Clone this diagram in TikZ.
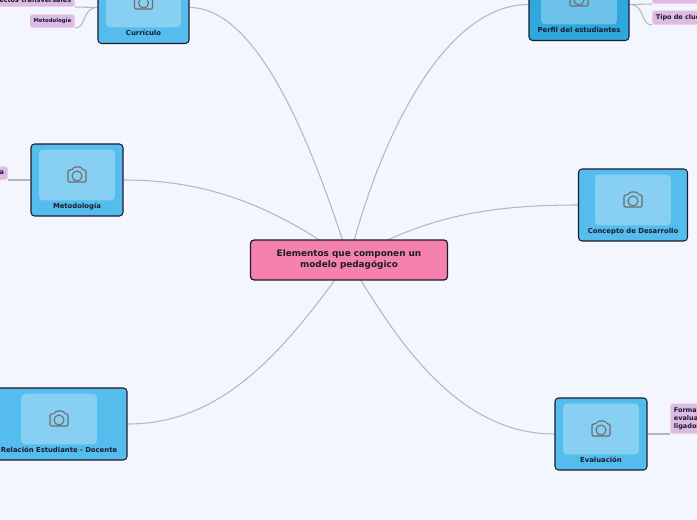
\documentclass[tikz,border=0pt]{standalone}
\usepackage{fontspec}
\setmainfont{DejaVu Sans}
\usepackage{xcolor}
\usetikzlibrary{positioning,backgrounds}
\definecolor{pagecol}{HTML}{F4F6FF}
\definecolor{cardcol}{HTML}{55BDEE}
\definecolor{cardtop}{HTML}{2FA8E0}
\definecolor{hubcol}{HTML}{F582AC}
\definecolor{tagcol}{HTML}{DDBBE4}
\definecolor{linecol}{HTML}{B4B7BE}
\definecolor{inkcol}{HTML}{1B1B2A}
\begin{document}
\begin{tikzpicture}[
  x=0.02cm,y=-0.02cm,
  hub/.style={draw=inkcol,line width=0.7pt,rounded corners=2pt,fill=hubcol,align=center,text=inkcol,font=\fontsize{5.05}{6.3}\selectfont\bfseries,minimum width=3.94cm,minimum height=0.8cm,inner sep=0pt},
  card/.style={draw=inkcol,line width=0.6pt,rounded corners=2pt,fill=cardcol,minimum height=1.44cm,inner sep=0pt},
  photo/.style={fill=white,fill opacity=0.3,rounded corners=2.5pt,minimum height=1.02cm,inner sep=0pt},
  cardname/.style={text=inkcol,font=\fontsize{3.9}{4.8}\selectfont\bfseries,inner sep=0pt,text height=3pt,text depth=0.8pt},
  tag/.style={fill=tagcol,rounded corners=1pt,text=inkcol,font=\fontsize{3.7}{4.5}\selectfont\bfseries,inner ysep=0pt,inner xsep=2pt,align=left},
  branch/.style={draw=linecol,line width=0.6pt},
  camera/.pic={
    \draw[draw=gray!85!black,line width=0.6pt,rounded corners=0.7pt]
      (-9,-5) -- (-5,-5) -- (-3,-8) -- (4,-8) -- (6,-5) -- (9,-5) -- (9,7) -- (-9,7) -- cycle;
    \draw[draw=gray!85!black,line width=0.6pt] (0,1) circle (5);
  }
]
\useasboundingbox (0,0) rectangle (697,520);
\clip (0,0) rectangle (697,520);
\node[hub] (hub) at (349,260) {Elementos que componen un\\modelo pedagógico};

\node[card,minimum width=1.82cm] (curriculo) at (143.5,7.5) {};
\node[card,minimum width=2.00cm,fill=cardtop] (perfil) at (579,4.5) {};
\node[card,minimum width=1.84cm] (metodo) at (77,180) {};
\node[card,minimum width=2.18cm] (concepto) at (633,205) {};
\node[card,minimum width=1.84cm] (evalua) at (601,434) {};
\node[card,minimum width=2.72cm] (relacion) at (59,424) {};

\node[photo,minimum width=1.50cm] (curriculoimg) at (143.5,2) {};
\node[photo,minimum width=1.52cm] (perfilimg) at (579,-1) {};
\node[photo,minimum width=1.52cm] (metodoimg) at (77,175) {};
\node[photo,minimum width=1.52cm] (conceptoimg) at (633,200) {};
\node[photo,minimum width=1.52cm] (evaluaimg) at (601,429) {};
\node[photo,minimum width=1.52cm] (relacionimg) at (59,419) {};

\foreach \img in {curriculoimg,perfilimg,metodoimg,conceptoimg,evaluaimg,relacionimg}
  \pic at (\img) {camera};

\node[cardname,below=1.2pt of curriculoimg] (curriculotxt) {Currículo};
\node[cardname,below=1.2pt of perfilimg] (perfiltxt) {Perfil del estudiantes};
\node[cardname,below=1.2pt of metodoimg] (metodotxt) {Metodología};
\node[cardname,below=1.2pt of conceptoimg] (conceptotxt) {Concepto de Desarrollo};
\node[cardname,below=1.2pt of evaluaimg] (evaluatxt) {Evaluación};
\node[cardname,below=1.2pt of relacionimg] (relaciontxt) {Relación Estudiante - Docente};

\node[tag,anchor=south east,minimum height=0.28cm] (aspectos) at (75,7) {ectos transversales};
\node[tag,anchor=south east,minimum height=0.26cm,font=\fontsize{3.05}{4}\selectfont\bfseries] (metotag) at (75,28) {Metodología};
\node[tag,anchor=south east,minimum height=0.26cm] (matag) at (8,180) {a};
\node[tag,anchor=south west,minimum height=0.28cm,text width=1.4cm] (tipo) at (652,25) {Tipo de clue};
\node[tag,anchor=south west,minimum height=0.28cm,text width=1.4cm] (tipob) at (652,4) {};
\node[tag,anchor=south west,minimum height=0.6cm] (forma) at (670,434) {Forma\\evalua\\ligados};

\begin{scope}[on background layer]
\fill[pagecol] (0,0) rectangle (697,520);
\draw[branch] (hub.center) .. controls +(-35,-110) and +(70,0) .. (curriculo.east);
\draw[branch] (hub.center) .. controls +(30,-120) and +(-85,0) .. (perfil.west);
\draw[branch] (hub.center) .. controls +(-70,-50) and +(90,0) .. (metodo.east);
\draw[branch] (hub.center) .. controls +(70,-40) and +(-100,0) .. (concepto.west);
\draw[branch] (hub.center) .. controls +(-70,100) and +(90,0) .. (relacion.east);
\draw[branch] (hub.center) .. controls +(55,95) and +(-90,0) .. (evalua.west);
\draw[branch] (curriculo.west) -- (aspectos.south east);
\draw[branch] (curriculo.west) .. controls +(-16,0) and +(12,0) .. (metotag.south east);
\draw[branch] (metodo.west) -- (matag.south east);
\draw[branch] (perfil.east) -- (tipob.south west);
\draw[branch] (perfil.east) .. controls +(16,0) and +(-12,0) .. (tipo.south west);
\draw[branch] (evalua.east) -- (forma.south west);
\end{scope}
\end{tikzpicture}
\end{document}
